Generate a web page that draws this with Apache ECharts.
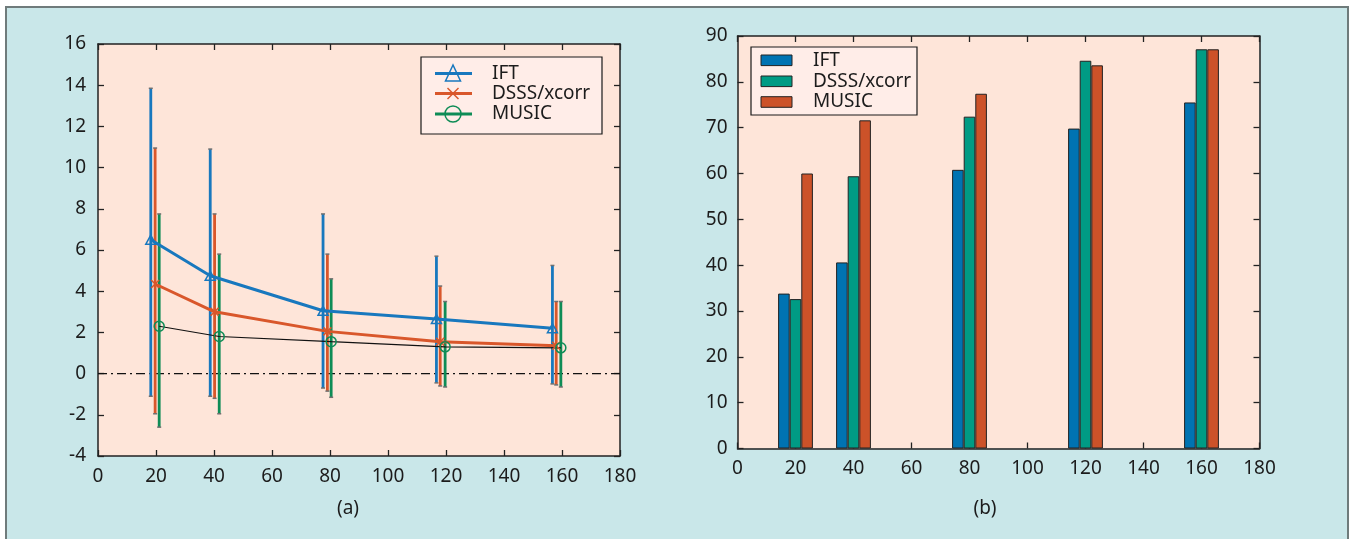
<!DOCTYPE html>
<html>
<head>
<meta charset="utf-8">
<script src="https://cdn.jsdelivr.net/npm/echarts@6/dist/echarts.min.js"></script>
<style>
  html, body { margin: 0; padding: 0; background: #ffffff; }
  #frame {
    position: absolute; left: 5px; top: 6px; width: 1344px; height: 540px;
    box-sizing: border-box; background: #C9E7E9;
    border: 2px solid #6F7B7B; border-bottom: none;
  }
  #chart { position: absolute; left: 0; top: 0; width: 1351px; height: 539px; }
</style>
</head>
<body>
<div id="frame"></div>
<div id="chart"></div>
<script>
// ---- (a) mean error with min/max bars; x positions are dodged around each range ----
const iftX    = [18.2, 38.7, 77.6, 116.7, 156.7];
const dsssX   = [19.7, 40.2, 79.1, 118.0, 158.0];
const musicX  = [21.1, 41.8, 80.4, 119.7, 159.6];

const iftMean   = [6.5, 4.75, 3.05, 2.65, 2.2];
const iftLow    = [-1.1, -1.1, -0.7, -0.45, -0.5];
const iftHigh   = [13.85, 10.9, 7.75, 5.7, 5.25];

const dsssMean  = [4.35, 3.0, 2.05, 1.55, 1.35];
const dsssLow   = [-1.95, -1.2, -0.85, -0.6, -0.55];
const dsssHigh  = [10.95, 7.75, 5.8, 4.25, 3.5];

const musicMean = [2.3, 1.8, 1.55, 1.3, 1.25];
const musicLow  = [-2.6, -1.95, -1.15, -0.65, -0.65];
const musicHigh = [7.75, 5.8, 4.6, 3.5, 3.5];

const zeroLine  = [[0, 0], [180, 0]];

// ---- (b) grouped bars ----
const barX      = [20, 40, 80, 120, 160];
const iftRate   = [33.8, 40.6, 60.8, 69.8, 75.5];
const dsssRate  = [32.6, 59.4, 72.4, 84.6, 87.1];
const musicRate = [60.0, 71.6, 77.4, 83.6, 87.1];

const legendNames = ['IFT', 'DSSS/xcorr', 'MUSIC'];

// ---- styling ----
const FONT = 'Noto Sans';
const INK = '#1c1c1c';
const PLOT_BG = '#FEE5D9';
const LEGEND_BG = '#FFEDE8';
const LINE_BLUE = '#1878BE', LINE_ORANGE = '#D9572B', LINE_GREEN = '#0E8C56';
const BAR_BLUE = '#0073B2', BAR_TEAL = '#009B84', BAR_ORANGE = '#CC5229';
const CAP = '#707070';

const pair = (xs, ys) => xs.map((x, i) => [x, ys[i]]);

function errorBars(xs, lows, highs, color) {
  return {
    type: 'custom', xAxisIndex: 0, yAxisIndex: 0, z: 2, silent: true,
    data: xs.map((x, i) => [x, lows[i], highs[i]]),
    encode: { x: 0, y: [1, 2] },
    renderItem: function (params, api) {
      const x = api.value(0);
      const lo = api.coord([x, api.value(1)]);
      const hi = api.coord([x, api.value(2)]);
      const c = 2;
      return {
        type: 'group',
        children: [
          { type: 'line', shape: { x1: lo[0], y1: lo[1], x2: hi[0], y2: hi[1] },
            style: { stroke: color, lineWidth: 2.8 } },
          { type: 'line', shape: { x1: hi[0] - c, y1: hi[1], x2: hi[0] + c, y2: hi[1] },
            style: { stroke: CAP, lineWidth: 1.5 } },
          { type: 'line', shape: { x1: lo[0] - c, y1: lo[1], x2: lo[0] + c, y2: lo[1] },
            style: { stroke: CAP, lineWidth: 1.5 } }
        ]
      };
    }
  };
}

function valueAxis(grid, pos, min, max, step, labels, margin) {
  return {
    type: 'value', gridIndex: grid, position: pos, min: min, max: max, interval: step,
    axisLine: { show: true, onZero: false, lineStyle: { color: '#222', width: 1.5 } },
    axisTick: { show: true, inside: true, length: 6, lineStyle: { color: '#222', width: 1.3 } },
    axisLabel: { show: labels, fontSize: 19, fontFamily: FONT, color: INK, margin: margin },
    splitLine: { show: false }
  };
}

function barSeries(name, values, color) {
  return {
    type: 'bar', name: name, xAxisIndex: 2, yAxisIndex: 2,
    data: pair(barX, values), barWidth: 11.6, barGap: '0%',
    itemStyle: { color: color, borderColor: '#222', borderWidth: 1 }, silent: true
  };
}

// legend drawing helpers
function legendText(x, y, text) {
  return { type: 'text', x: x, y: y, z: 100,
    style: { text: text, fontSize: 19, fontFamily: FONT, fill: INK, verticalAlign: 'middle', align: 'left' } };
}
const rowsA = [73.5, 93.5, 114];
const rowsB = [60.3, 81.3, 102];

const graphics = [
  // legend (a)
  { type: 'rect', z: 99, shape: { x: 421, y: 57, width: 181, height: 77 },
    style: { fill: LEGEND_BG, stroke: '#1a1a1a', lineWidth: 1.2 } },
  { type: 'line', z: 100, shape: { x1: 435, y1: rowsA[0], x2: 472, y2: rowsA[0] }, style: { stroke: LINE_BLUE, lineWidth: 3 } },
  { type: 'line', z: 100, shape: { x1: 435, y1: rowsA[1], x2: 472, y2: rowsA[1] }, style: { stroke: LINE_ORANGE, lineWidth: 3 } },
  { type: 'line', z: 100, shape: { x1: 435, y1: rowsA[2], x2: 472, y2: rowsA[2] }, style: { stroke: LINE_GREEN, lineWidth: 3 } },
  { type: 'polygon', z: 101, shape: { points: [[453, rowsA[0] - 8.5], [445.5, rowsA[0] + 7.5], [460.5, rowsA[0] + 7.5]] },
    style: { fill: 'none', stroke: LINE_BLUE, lineWidth: 1.5 } },
  { type: 'line', z: 101, shape: { x1: 447.5, y1: rowsA[1] - 5.5, x2: 458.5, y2: rowsA[1] + 5.5 }, style: { stroke: LINE_ORANGE, lineWidth: 1.5 } },
  { type: 'line', z: 101, shape: { x1: 447.5, y1: rowsA[1] + 5.5, x2: 458.5, y2: rowsA[1] - 5.5 }, style: { stroke: LINE_ORANGE, lineWidth: 1.5 } },
  { type: 'circle', z: 101, shape: { cx: 453, cy: rowsA[2], r: 8 }, style: { fill: 'none', stroke: LINE_GREEN, lineWidth: 1.5 } },
  legendText(492, rowsA[0], legendNames[0]),
  legendText(492, rowsA[1], legendNames[1]),
  legendText(492, rowsA[2], legendNames[2]),

  // legend (b)
  { type: 'rect', z: 99, shape: { x: 751, y: 47, width: 166, height: 68 },
    style: { fill: LEGEND_BG, stroke: '#1a1a1a', lineWidth: 1.2 } },
  { type: 'rect', z: 100, shape: { x: 761, y: rowsB[0] - 5.3, width: 31, height: 10.6 }, style: { fill: BAR_BLUE, stroke: '#222', lineWidth: 1 } },
  { type: 'rect', z: 100, shape: { x: 761, y: rowsB[1] - 5.3, width: 31, height: 10.6 }, style: { fill: BAR_TEAL, stroke: '#222', lineWidth: 1 } },
  { type: 'rect', z: 100, shape: { x: 761, y: rowsB[2] - 5.3, width: 31, height: 10.6 }, style: { fill: BAR_ORANGE, stroke: '#222', lineWidth: 1 } },
  legendText(813, rowsB[0], legendNames[0]),
  legendText(813, rowsB[1], legendNames[1]),
  legendText(813, rowsB[2], legendNames[2]),

  // panel captions
  { type: 'text', x: 348, y: 509, z: 100,
    style: { text: '(a)', fontSize: 19, fontFamily: FONT, fill: INK, align: 'center', verticalAlign: 'middle' } },
  { type: 'text', x: 985, y: 509, z: 100,
    style: { text: '(b)', fontSize: 19, fontFamily: FONT, fill: INK, align: 'center', verticalAlign: 'middle' } }
];

const chart = echarts.init(document.getElementById('chart'), null, { renderer: 'canvas' });
chart.setOption({
  animation: false,
  backgroundColor: 'transparent',
  textStyle: { fontFamily: FONT },
  grid: [
    { left: 98, top: 44, width: 522, height: 412, show: true, backgroundColor: PLOT_BG, borderWidth: 0 },
    { left: 737.5, top: 36, width: 522, height: 412.5, show: true, backgroundColor: PLOT_BG, borderWidth: 0 }
  ],
  xAxis: [
    valueAxis(0, 'bottom', 0, 180, 20, true, 11),
    valueAxis(0, 'top', 0, 180, 20, false, 8),
    valueAxis(1, 'bottom', 0, 180, 20, true, 11),
    valueAxis(1, 'top', 0, 180, 20, false, 8)
  ],
  yAxis: [
    valueAxis(0, 'left', -4, 16, 2, true, 12),
    valueAxis(0, 'right', -4, 16, 2, false, 8),
    valueAxis(1, 'left', 0, 90, 10, true, 10),
    valueAxis(1, 'right', 0, 90, 10, false, 8)
  ],
  graphic: graphics,
  series: [
    { type: 'line', xAxisIndex: 0, yAxisIndex: 0, data: zeroLine, symbol: 'none', z: 1, silent: true,
      lineStyle: { color: '#111', width: 1.2, type: [9, 4, 2, 4] } },

    errorBars(iftX, iftLow, iftHigh, LINE_BLUE),
    errorBars(dsssX, dsssLow, dsssHigh, LINE_ORANGE),
    errorBars(musicX, musicLow, musicHigh, LINE_GREEN),

    { type: 'line', name: legendNames[0], xAxisIndex: 0, yAxisIndex: 0, z: 4, silent: true,
      data: pair(iftX, iftMean), symbol: 'triangle', symbolSize: [10, 9],
      itemStyle: { color: 'rgba(0,0,0,0)', borderColor: LINE_BLUE, borderWidth: 1.5 },
      lineStyle: { color: LINE_BLUE, width: 3 } },
    { type: 'line', name: legendNames[1], xAxisIndex: 0, yAxisIndex: 0, z: 4, silent: true,
      data: pair(dsssX, dsssMean), symbol: 'path://M0,0L10,10M10,0L0,10', symbolSize: 8,
      itemStyle: { color: 'rgba(0,0,0,0)', borderColor: LINE_ORANGE, borderWidth: 1.5 },
      lineStyle: { color: LINE_ORANGE, width: 3 } },
    { type: 'line', name: legendNames[2], xAxisIndex: 0, yAxisIndex: 0, z: 4, silent: true,
      data: pair(musicX, musicMean), symbol: 'circle', symbolSize: 10,
      itemStyle: { color: 'rgba(0,0,0,0)', borderColor: LINE_GREEN, borderWidth: 1.5 },
      lineStyle: { color: '#111', width: 1.2 } },

    barSeries(legendNames[0], iftRate, BAR_BLUE),
    barSeries(legendNames[1], dsssRate, BAR_TEAL),
    barSeries(legendNames[2], musicRate, BAR_ORANGE)
  ]
});
</script>
</body>
</html>
